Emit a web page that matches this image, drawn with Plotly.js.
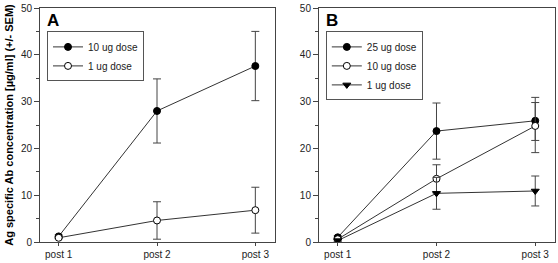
<!DOCTYPE html>
<html>
<head>
<meta charset="utf-8">
<script src="https://cdn.plot.ly/plotly-3.0.1.min.js"></script>
<style>html,body{margin:0;padding:0;background:#fff;}#chart{width:558px;height:263px;}</style>
</head>
<body>
<div id="chart"></div>
<script>
// Categories (x axis)
var categories = ["post 1", "post 2", "post 3"];

// Panel A series
var a_10ug = [1.2, 28.0, 37.6];
var a_10ug_err = [0.3, 6.85, 7.4];
var a_1ug = [0.9, 4.6, 6.8];
var a_1ug_err = [0.2, 4.0, 4.9];

// Panel B series
var b_25ug = [1.0, 23.7, 25.9];
var b_25ug_errPlus = [0.3, 6.0, 5.0];
var b_25ug_errMinus = [0.3, 6.0, 4.2];
var b_10ug = [0.6, 13.5, 24.8];
var b_10ug_errPlus = [0.2, 3.0, 5.0];
var b_10ug_errMinus = [0.2, 3.0, 5.7];
var b_1ug = [0.3, 10.4, 10.9];
var b_1ug_err = [0.2, 3.4, 3.2];

// Tick values
var yTicks = [0, 10, 20, 30, 40, 50];

var FONT = "Liberation Sans, Arial, sans-serif";
var LINE = "#333";
var AX = "#444";

function trace(name, x, y, errP, errM, xa, ya, symbol, fill, legend) {
  var eb = {type: "data", array: errP, visible: true, color: AX, thickness: 1, width: 4};
  if (errM) { eb.symmetric = false; eb.arrayminus = errM; }
  return {
    type: "scatter", mode: "lines+markers", name: name,
    x: x, y: y, xaxis: xa, yaxis: ya, legend: legend,
    line: {color: LINE, width: 1},
    marker: {symbol: symbol, size: 7, color: fill, line: {color: "#000", width: 1}},
    error_y: eb
  };
}

var data = [
  trace("10 ug dose", categories, a_10ug, a_10ug_err, null, "x", "y", "circle", "#000", "legend"),
  trace("1 ug dose", categories, a_1ug, a_1ug_err, null, "x", "y", "circle", "#fff", "legend"),
  trace("25 ug dose", categories, b_25ug, b_25ug_errPlus, b_25ug_errMinus, "x2", "y2", "circle", "#000", "legend2"),
  trace("10 ug dose", categories, b_10ug, b_10ug_errPlus, b_10ug_errMinus, "x2", "y2", "circle", "#fff", "legend2"),
  trace("1 ug dose", categories, b_1ug, b_1ug_err, null, "x2", "y2", "triangle-down", "#000", "legend2")
];

function xax(domain, anchor) {
  return {
    domain: domain, anchor: anchor, type: "category", range: [-0.19, 2.2],
    showline: true, mirror: true, linecolor: AX, linewidth: 1,
    ticks: "outside", ticklen: 3, tickcolor: AX,
    showgrid: false, zeroline: false, fixedrange: true,
    tickfont: {family: FONT, size: 10, color: "#222"}
  };
}
function yax(anchor, title) {
  var o = {
    anchor: anchor, range: [0, 50], tickvals: yTicks,
    showline: true, mirror: true, linecolor: AX, linewidth: 1,
    ticks: "outside", ticklen: 5, tickcolor: AX,
    minor: {dtick: 5, ticks: "outside", ticklen: 3, tickcolor: AX, showgrid: false},
    showgrid: false, zeroline: false, fixedrange: true,
    tickfont: {family: FONT, size: 10, color: "#222"}
  };
  if (title) o.title = {text: title, font: {family: FONT, size: 11, color: "#000", weight: "bold"}, standoff: 5};
  return o;
}

var legStyle = {
  bgcolor: "rgba(255,255,255,0)", bordercolor: "#555", borderwidth: 1,
  font: {family: FONT, size: 10, color: "#222"}, itemwidth: 30,
  xanchor: "left", yanchor: "top", tracegroupgap: 0
};

var layout = {
  width: 558, height: 263,
  margin: {l: 40, r: 3, t: 8, b: 21, pad: 0},
  paper_bgcolor: "#fff", plot_bgcolor: "#fff",
  showlegend: true,
  xaxis: xax([0, 0.4563], "y"),
  yaxis: yax("x", "<b>Ag specific Ab concentration [µg/ml] (+/- SEM)</b>"),
  xaxis2: xax([0.5417, 1], "y2"),
  yaxis2: yax("x2", null),
  legend: Object.assign({x: 0.0136, y: 0.9}, legStyle),
  legend2: Object.assign({x: 0.555, y: 0.9}, legStyle),
  annotations: [
    {text: "<b>A</b>", xref: "x domain", yref: "y domain", x: 0.022, y: 0.995, xanchor: "left", yanchor: "top", showarrow: false, font: {family: FONT, size: 17, color: "#000"}},
    {text: "<b>B</b>", xref: "x2 domain", yref: "y2 domain", x: 0.022, y: 0.995, xanchor: "left", yanchor: "top", showarrow: false, font: {family: FONT, size: 17, color: "#000"}}
  ]
};

Plotly.newPlot("chart", data, layout, {displayModeBar: false, staticPlot: true});
</script>
</body>
</html>
